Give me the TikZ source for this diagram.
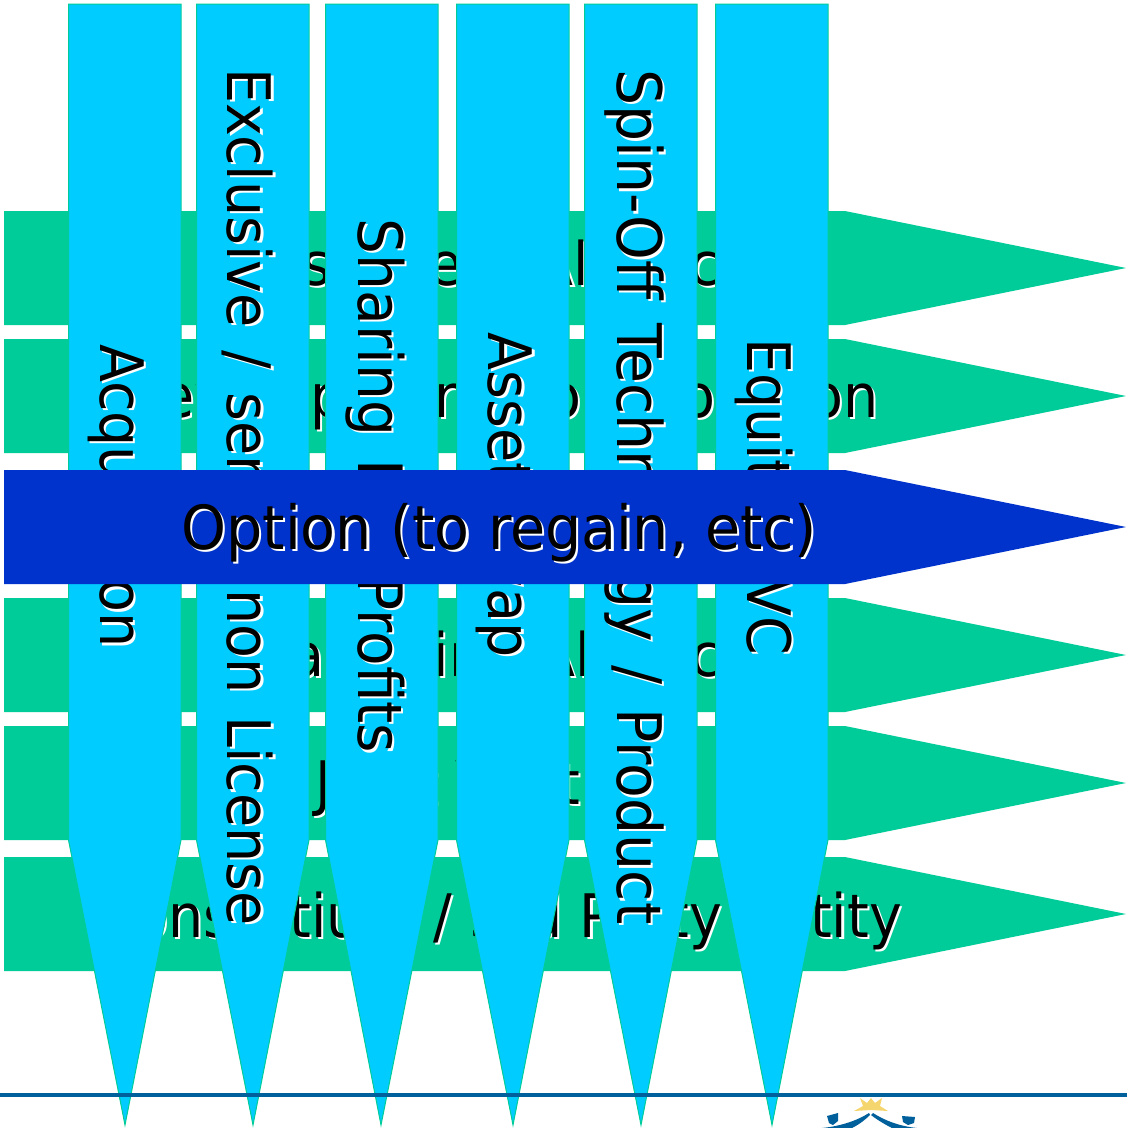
\documentclass[tikz,border=0pt]{standalone}
\usepackage{fontspec}
\setmainfont{DejaVu Sans}[FakeStretch=0.925,WordSpace=1.3]
\newfontfamily\rowfont{DejaVu Sans}[FakeStretch=0.925]
\newfontfamily\optfont{DejaVu Sans}[FakeStretch=0.94]
\definecolor{rowgreen}{HTML}{00CC99}
\definecolor{colblue}{HTML}{00CCFF}
\definecolor{optblue}{HTML}{0033CC}
\definecolor{rulecol}{HTML}{00609C}
\definecolor{starcol}{HTML}{F5D56E}
\tikzset{
  rowarrow/.style={fill=rowgreen,draw=none},
  optarrow/.style={fill=optblue,draw=none},
  colarrow/.style={fill=colblue,draw=rowgreen,line width=1pt},
  shadowlabel/.style={font=\fontsize{60}{60}\selectfont,text=white},
  mainlabel/.style={font=\fontsize{60}{60}\selectfont,text=black},
}
% label with a white copy behind it, pushed right and down
\newcommand{\shadowtext}[5][0]{%
  \node[shadowlabel,rotate=#1] at (#2+2.2,#3+2.2) {#5};
  \node[mainlabel,rotate=#1] (#4) at (#2,#3) {#5};
}
\begin{document}
\begin{tikzpicture}[x=1pt,y=-1pt]
  \useasboundingbox (0,0) rectangle (1127,1128);

  % horizontal arrows
  \draw[rowarrow] (4,211) -- (845,211) -- (1126,268) -- (845,325) -- (4,325) -- cycle;
  \shadowtext{499}{269}{discovery}{\rowfont Discovery Alliance}
  \draw[rowarrow] (4,339) -- (845,339) -- (1126,396) -- (845,453) -- (4,453) -- cycle;
  \shadowtext{498}{401}{development}{\rowfont Development Collaboration}
  \draw[rowarrow] (4,598) -- (845,598) -- (1126,655) -- (845,712) -- (4,712) -- cycle;
  \shadowtext{499}{660}{marketing}{\rowfont Marketing Alliance}
  \draw[rowarrow] (4,726) -- (845,726) -- (1126,783) -- (845,840) -- (4,840) -- cycle;
  \shadowtext{493}{788}{joint}{\rowfont Joint Venture}
  \draw[rowarrow] (4,857) -- (845,857) -- (1126,914) -- (845,971) -- (4,971) -- cycle;
  \shadowtext{499}{921}{consortium}{\rowfont Consortium / 3rd Party Entity}

  % vertical arrows
  \draw[colarrow] (68.5,4) -- (181,4) -- (181,840) -- (125,1125) -- (68.5,840) -- cycle;
  \shadowtext[-90]{117}{496}{acquisition}{Acquisition}
  \draw[colarrow] (196.5,4) -- (309,4) -- (309,840) -- (253,1125) -- (196.5,840) -- cycle;
  \shadowtext[-90]{248}{497}{exclusive}{Exclusive / semi / non License}
  \draw[colarrow] (325.5,4) -- (438,4) -- (438,840) -- (381,1125) -- (325.5,840) -- cycle;
  \shadowtext[-90]{375}{486}{sharing}{\fontsize{61.2}{60}\selectfont Sharing IP / Profits}
  \draw[colarrow] (456.5,4) -- (569,4) -- (569,840) -- (513,1125) -- (456.5,840) -- cycle;
  \shadowtext[-90]{505}{495}{asset}{Asset Swap}
  \draw[colarrow] (584.5,4) -- (697,4) -- (697,840) -- (641,1125) -- (584.5,840) -- cycle;
  \shadowtext[-90]{634.5}{497}{spinoff}{\fontsize{61.5}{60}\selectfont Spin-Off Technology / Product}
  \draw[colarrow] (715.5,4) -- (828,4) -- (828,840) -- (772,1125) -- (715.5,840) -- cycle;
  \shadowtext[-90]{764}{497}{equity}{Equity / VC}

  % option arrow on top
  \draw[optarrow] (4,470) -- (845,470) -- (1126,527) -- (845,584) -- (4,584) -- cycle;
  \shadowtext{499}{533}{option}{\optfont\fontsize{60.8}{60}\selectfont Option (to regain, etc)}

  % footer rule and logo
  \draw[rulecol,line width=3.5pt] (0,1095) -- (1127,1095);
  \fill[starcol] (871,1098) -- (875,1103) -- (882,1098) -- (880,1106) -- (888,1111) -- (871,1110) -- (854,1111) -- (863,1106) -- (860,1098) -- (867,1103) -- cycle;
  \fill[rulecol] (869,1113) .. controls (858,1120) and (842,1126) .. (822,1128) -- (852,1128) .. controls (860,1124) and (866,1119) .. (870,1115) -- cycle;
  \fill[rulecol] (873,1113) .. controls (884,1120) and (898,1126) .. (917,1128) -- (892,1128) .. controls (884,1124) and (876,1119) .. (871,1115) -- cycle;
  \fill[rulecol] (827,1116) -- (838,1113) -- (838,1121) -- (833,1125) -- (829,1123) -- cycle;
  \fill[rulecol] (902,1116) -- (915,1117) -- (914,1123) -- (908,1125) -- (903,1122) -- cycle;
\end{tikzpicture}
\end{document}
